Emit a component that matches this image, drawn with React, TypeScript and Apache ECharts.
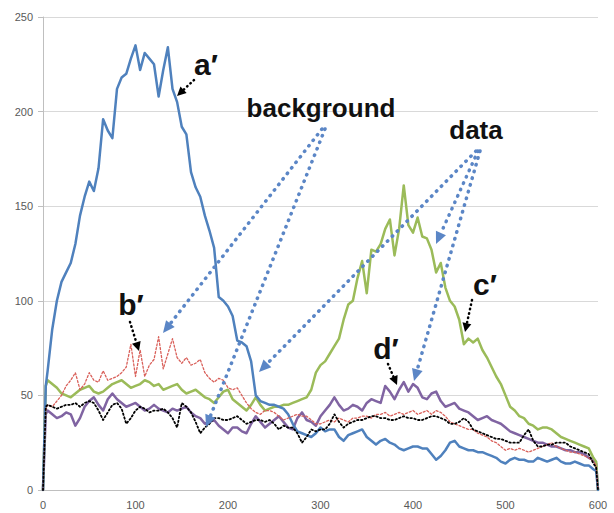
import React, { useEffect, useRef } from "react";
import * as echarts from "echarts";

// x grid of the sampled curves (channel positions)
const xs: number[] = [0, 3, ...Array.from({ length: 119 }, (_, i) => 5 + 5 * i), 598, 600];

const xTicks = [0, 100, 200, 300, 400, 500, 600];
const yTicks = [0, 50, 100, 150, 200, 250];

// a′ (blue)
const seriesA = [0, 55,
  63, 85, 100, 110, 115, 120, 130, 145, 155, 163,
  158, 170, 196, 190, 186, 212, 218, 220, 228, 235,
  222, 231, 228, 225, 208, 222, 234, 212, 205, 192,
  188, 168, 160, 155, 145, 137, 128, 102, 100, 97,
  92, 79, 78, 76, 68, 50, 47, 46, 45, 45,
  44, 43, 40, 35, 31, 30, 29, 28, 30, 33,
  31, 32, 32, 28, 26, 29, 30, 31, 32, 28,
  26, 24, 26, 27, 25, 24, 22, 21, 22, 23,
  23, 22, 22, 19, 16, 18, 21, 25, 26, 23,
  22, 21, 21, 20, 20, 19, 18, 17, 15, 14,
  16, 17, 16, 16, 15, 15, 17, 16, 15, 16,
  17, 15, 14, 14, 15, 14, 13, 13, 11,
  10, 0];

// c′ (green)
const seriesC = [0, 55,
  58, 56, 54, 51, 50, 49, 51, 53, 54, 55,
  52, 51, 52, 54, 56, 57, 58, 56, 54, 55,
  56, 58, 57, 55, 56, 53, 54, 55, 56, 53,
  51, 52, 53, 51, 49, 48, 46, 49, 52, 53,
  48, 46, 44, 42, 45, 49, 45, 42, 43, 44,
  44, 45, 45, 46, 47, 48, 49, 53, 62, 66,
  68, 72, 76, 80, 90, 98, 100, 112, 121, 104,
  127, 126, 130, 138, 143, 124, 138, 161, 140, 136,
  144, 134, 133, 127, 115, 120, 107, 100, 97, 90,
  77, 80, 78, 80, 74, 70, 65, 60, 56, 50,
  44, 42, 39, 38, 35, 34, 32, 33, 33, 32,
  30, 28, 27, 26, 25, 24, 23, 22, 17,
  15, 0];

// d′ (purple)
const seriesD = [0, 40,
  42, 40, 38, 39, 41, 40, 34, 38, 44, 47,
  49, 45, 42, 48, 51, 48, 46, 44, 45, 46,
  44, 42, 43, 45, 43, 42, 41, 43, 42, 43,
  44, 41, 39, 38, 35, 36, 37, 34, 32, 30,
  33, 33, 31, 30, 35, 39, 36, 33, 35, 37,
  39, 36, 33, 32, 38, 41, 37, 36, 34, 39,
  42, 45, 49, 45, 42, 43, 45, 44, 42, 46,
  48, 47, 46, 55, 52, 48, 53, 57, 52, 56,
  54, 49, 48, 51, 52, 47, 44, 45, 46, 43,
  42, 41, 39, 37, 38, 39, 37, 36, 35, 33,
  31, 30, 29, 28, 27, 26, 25, 25, 24, 23,
  23, 22, 21, 21, 20, 20, 19, 17, 16,
  14, 0];

// b′ (red dotted)
const seriesB = [0, 42,
  45, 44, 47, 50, 55, 58, 62, 53, 56, 62,
  58, 57, 63, 58, 59, 60, 62, 65, 77, 60,
  74, 60, 66, 69, 81, 64, 72, 80, 70, 67,
  70, 66, 67, 69, 62, 59, 57, 59, 58, 54,
  53, 54, 50, 46, 43, 41, 40, 42, 42, 41,
  39, 37, 38, 39, 40, 39, 39, 37, 35, 35,
  36, 37, 36, 38, 37, 36, 38, 38, 39, 39,
  38, 40, 40, 41, 39, 40, 41, 40, 41, 42,
  40, 41, 42, 40, 42, 41, 39, 36, 35, 34,
  33, 32, 32, 30, 29, 28, 26, 25, 23, 21,
  22, 21, 22, 21, 20, 21, 22, 23, 24, 25,
  23, 22, 21, 20, 20, 19, 18, 17, 15,
  13, 0];

// black dotted
const seriesK = [0, 44,
  45, 44, 43, 44, 45, 45, 46, 44, 46, 47,
  46, 42, 37, 41, 45, 46, 43, 35, 38, 42,
  44, 43, 41, 42, 42, 43, 41, 38, 33, 46,
  44, 41, 36, 30, 33, 35, 38, 38, 37, 37,
  38, 39, 37, 35, 36, 37, 37, 36, 37, 35,
  32, 34, 33, 33, 30, 25, 28, 32, 31, 32,
  32, 35, 40, 36, 33, 35, 36, 37, 37, 38,
  39, 39, 38, 38, 37, 37, 38, 39, 38, 38,
  37, 37, 38, 39, 39, 38, 37, 35, 35, 36,
  38, 36, 32, 31, 30, 29, 28, 27, 27, 26,
  25, 25, 25, 29, 32, 26, 23, 23, 24, 24,
  25, 25, 25, 23, 22, 21, 20, 19, 14,
  12, 0];

const labels = ["a′", "b′", "c′", "d′", "background", "data"];

const pairs = (vals: number[]) => xs.map((x, i) => [x, vals[i]]);

function arrowEls(
  x1: number, y1: number, x2: number, y2: number,
  color: string, lw: number, dash: number[], hl: number, hw: number
) {
  const dx = x2 - x1, dy = y2 - y1;
  const L = Math.hypot(dx, dy);
  const ux = dx / L, uy = dy / L;
  const bx = x2 - ux * hl, by = y2 - uy * hl;
  const px = -uy, py = ux;
  return [
    {
      type: "line", z: 100, silent: true,
      shape: { x1, y1, x2: bx, y2: by },
      style: { stroke: color, lineWidth: lw, lineDash: dash, lineCap: "round" },
    },
    {
      type: "polygon", z: 100, silent: true,
      shape: { points: [[x2, y2], [bx + px * hw, by + py * hw], [bx - px * hw, by - py * hw]] },
      style: { fill: color },
    },
  ];
}

function txt(text: string, x: number, y: number, size: number) {
  return {
    type: "text", z: 101, silent: true, x, y,
    style: {
      text, fill: "#111", fontSize: size, fontWeight: "bold",
      fontFamily: "Liberation Sans, Arial, sans-serif",
      align: "center", verticalAlign: "middle",
    },
  };
}

export default function App() {
  const ref = useRef<HTMLDivElement>(null);
  useEffect(() => {
    if (!ref.current) return;
    const chart = echarts.init(ref.current, null, { renderer: "svg" });
    const BLUE_A = "#5B86C6";
    const graphics: any[] = [
      ...arrowEls(194, 80, 177, 96, "#000", 2.5, [0.5, 4], 9, 4.5),
      ...arrowEls(130, 322, 139, 351, "#000", 2.5, [0.5, 4], 9, 4.5),
      ...arrowEls(472, 300, 465, 332, "#000", 2.5, [0.5, 4], 9, 4.5),
      ...arrowEls(388, 364, 397, 385, "#000", 2.5, [0.5, 4], 9, 4.5),
      ...arrowEls(322, 129, 163, 333, BLUE_A, 3.5, [0.5, 6.5], 12, 5.5),
      ...arrowEls(325, 129, 206, 427, BLUE_A, 3.5, [0.5, 6.5], 12, 5.5),
      ...arrowEls(478, 151, 436, 244, BLUE_A, 3.5, [0.5, 6.5], 12, 5.5),
      ...arrowEls(480, 151, 414, 381, BLUE_A, 3.5, [0.5, 6.5], 12, 5.5),
      ...arrowEls(476, 151, 259, 372, BLUE_A, 3.5, [0.5, 6.5], 12, 5.5),
      txt(labels[0], 206, 64, 30),
      txt(labels[1], 131, 304, 30),
      txt(labels[2], 485, 284, 30),
      txt(labels[3], 386, 348, 30),
      txt(labels[4], 321, 108, 26),
      txt(labels[5], 476, 130, 26),
    ];
    const lineS = (data: number[], color: string, width: number, type: any, z: number) => ({
      type: "line", data: pairs(data), showSymbol: false, symbol: "none", z,
      lineStyle: { color, width, type, cap: "round", join: "round" },
      emphasis: { disabled: true },
    });
    chart.setOption({
      animation: false,
      grid: { left: 43, right: 16, top: 17, bottom: 23, containLabel: false },
      xAxis: {
        type: "value", min: xTicks[0], max: xTicks[xTicks.length - 1], interval: 100,
        splitLine: { show: false },
        axisLine: { show: true, lineStyle: { color: "#BFBFBF", width: 1 } },
        axisTick: { show: false },
        axisLabel: { color: "#595959", fontSize: 11, margin: 9, fontFamily: "Liberation Sans, Arial, sans-serif" },
      },
      yAxis: {
        type: "value", min: yTicks[0], max: yTicks[yTicks.length - 1], interval: 50,
        splitLine: { show: true, lineStyle: { color: "#D9D9D9", width: 1 } },
        axisLine: { show: true, lineStyle: { color: "#BFBFBF", width: 1 } },
        axisTick: { show: true, length: 5, lineStyle: { color: "#BFBFBF" } },
        axisLabel: { color: "#595959", fontSize: 11, margin: 10, fontFamily: "Liberation Sans, Arial, sans-serif" },
      },
      series: [
        lineS(seriesD, "#8064A2", 2.5, "solid", 2),
        lineS(seriesC, "#9BBB59", 2.5, "solid", 3),
        lineS(seriesA, "#4F81BD", 2.5, "solid", 4),
        lineS(seriesB, "#D9605A", 1.3, [2, 2], 5),
        lineS(seriesK, "#000000", 1.8, [1.5, 2.5], 6),
      ],
      graphic: { elements: graphics },
    });
    return () => chart.dispose();
  }, []);
  return (
    <div
      ref={ref}
      style={{ position: "absolute", left: 0, top: 0, width: 614, height: 513, background: "#fff" }}
    />
  );
}
